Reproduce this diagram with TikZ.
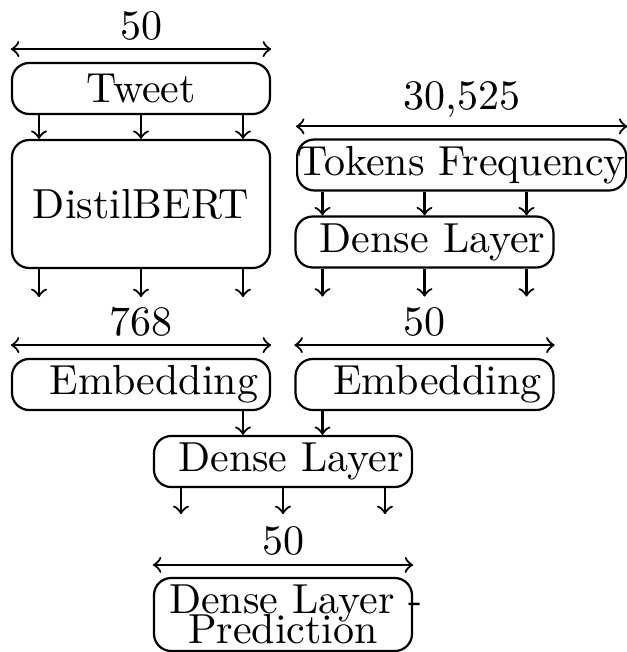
\documentclass[tikz,border=0pt]{standalone}
\begin{document}
\begin{tikzpicture}[x=0.25pt,y=-0.25pt, line width=0.55pt,
  every node/.style={font=\fontsize{10.5pt}{12.6pt}\selectfont},
  box/.style={draw, rounded corners=4.3pt, minimum width=64.5pt, minimum height=12.75pt, inner sep=0pt},
  lab/.style={above, inner sep=2pt},
  flow/.style={->},
  dim/.style={<->}]
\useasboundingbox (0,0) rectangle (626,652);
% boxes
\node[box] (tweet) at (141,88.5) {Tweet};
\node[box, minimum height=32pt] (bert) at (141,204) {DistilBERT};
\node[box, anchor=west] (tf) at (296,165) {\makebox[82.3pt][c]{Tokens Frequency}};
\node[box] (dl1) at (424.5,242) {\hspace{4pt}Dense Layer};
\node[box] (emb1) at (141,384.5) {\hspace{6.5pt}Embedding};
\node[box] (emb2) at (424.5,384.5) {\hspace{6.5pt}Embedding};
\node[box] (dl2) at (283,461.5) {\hspace{4pt}Dense Layer};
\node[box, minimum height=18.25pt, text width=57pt, align=center] (pred) at (283,614.5) {\mbox{Dense Layer -}\\[-5pt]Prediction};
% dimension arrows
\draw[dim] ([yshift=3.2pt]tweet.north west) -- node[lab] (d1) {50} ([yshift=3.2pt]tweet.north east);
\draw[dim] ([yshift=3pt]tf.north west) -- node[lab] (d2) {30,525} ([yshift=3pt]tf.north east);
\draw[dim] ([yshift=3.2pt]emb1.north west) -- node[lab] (d3) {768} ([yshift=3.2pt]emb1.north east);
\draw[dim] ([yshift=3.2pt]emb2.north west) -- node[lab] (d4) {50} ([yshift=3.2pt]emb2.north east);
\draw[dim] ([yshift=3pt]pred.north west) -- node[lab] (d5) {50} ([yshift=3pt]pred.north east);
% flows
\foreach \d/\i in {-25.5/1,0/2,25.5/3}{
  \draw[flow] ([xshift=\d pt]tweet.south) -- ([xshift=\d pt]bert.north);
  \coordinate (bo\i) at ([xshift=\d pt, yshift=-7pt]bert.south);
  \draw[flow] ([xshift=\d pt]bert.south) -- (bo\i);
  \coordinate (dt\i) at ([xshift=\d pt]dl1.north);
  \draw[flow] (dt\i |- tf.south) -- (dt\i);
  \coordinate (lo\i) at ([xshift=\d pt, yshift=-7pt]dl1.south);
  \draw[flow] ([xshift=\d pt]dl1.south) -- (lo\i);
  \coordinate (mo\i) at ([xshift=\d pt, yshift=-6.5pt]dl2.south);
  \draw[flow] ([xshift=\d pt]dl2.south) -- (mo\i);
}
\coordinate (e1) at ([xshift=25.5pt]emb1.south);
\coordinate (e2) at ([xshift=-25.5pt]emb2.south);
\draw[flow] (e1) -- (e1 |- dl2.north);
\draw[flow] (e2) -- (e2 |- dl2.north);
\end{tikzpicture}
\end{document}
